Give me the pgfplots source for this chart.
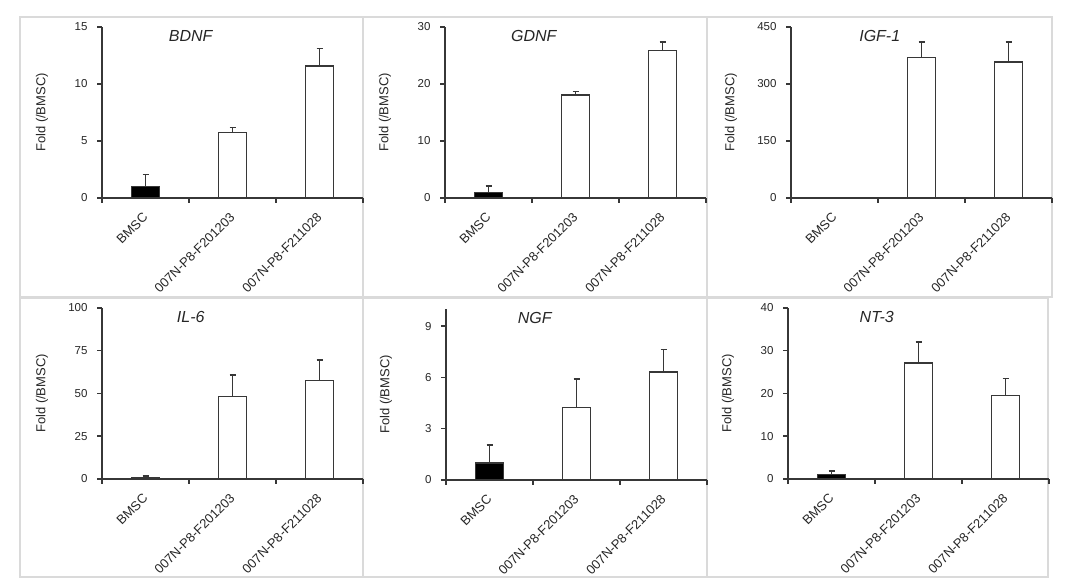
\documentclass[border=0pt]{standalone}
\usepackage{fontspec}
\setmainfont{Liberation Sans}
\usepackage{pgfplots}
\pgfplotsset{compat=1.18}
\definecolor{ax}{RGB}{55,55,55}
\definecolor{brd}{RGB}{218,218,218}
\pgfplotsset{
  panel/.style={
    scale only axis, width=261pt, height=171pt, anchor=south west,
    xmin=-0.5, xmax=2.5, ymin=0,
    axis lines=left, axis line style={draw=ax, line width=1.6pt, -},
    xtick={0,1,2}, xticklabels={BMSC,007N-P8-F201203,007N-P8-F211028},
    minor xtick={-0.5,0.5,1.5,2.5},
    tick align=outside, major tick length=5pt, minor tick length=5pt,
    tick style={draw=ax, line width=1.5pt},
    major x tick style={draw=none},
    xticklabel style={yshift=-12pt, rotate=45, anchor=east, font=\fontsize{13}{15}\selectfont, inner sep=0pt, text=black!85},
    yticklabel style={xshift=-6pt, font=\fontsize{11.5}{13}\selectfont, text=black!85},
    /pgf/number format/assume math mode=true,
    ylabel={Fold (/BMSC)},
    ylabel style={at={(axis description cs:-0.23,0.5)}, anchor=center, font=\fontsize{13}{15}\selectfont, text=black!85},
    title style={at={(axis description cs:0.34,0.91)}, anchor=center, font=\fontsize{16}{18}\selectfont\itshape, text=black!85},
    clip=false,
  },
  bmsc/.style={ybar, bar width=28pt, fill=black, draw=ax, line width=1.5pt,
    error bars/.cd, y dir=plus, y explicit,
    error bar style={ax, line width=1.5pt},
    error mark options={rotate=90, ax, mark size=3pt, line width=1.5pt}},
  oth/.style={ybar, bar width=28pt, fill=white, draw=ax, line width=1.5pt,
    error bars/.cd, y dir=plus, y explicit,
    error bar style={ax, line width=1.5pt},
    error mark options={rotate=90, ax, mark size=3pt, line width=1.5pt}},
}
\begin{document}
\begin{tikzpicture}
\useasboundingbox (0,0) rectangle (1070pt,588pt);
\draw[brd, line width=1.5pt] (20pt,291pt) rectangle (363pt,571pt);
\draw[brd, line width=1.5pt] (363pt,291pt) rectangle (707pt,571pt);
\draw[brd, line width=1.5pt] (707pt,291pt) rectangle (1052pt,571pt);
\draw[brd, line width=1.5pt] (20pt,11pt) rectangle (363pt,290pt);
\draw[brd, line width=1.5pt] (363pt,11pt) rectangle (707pt,290pt);
\draw[brd, line width=1.5pt] (707pt,11pt) rectangle (1048pt,290pt);

\begin{axis}[panel, at={(102pt,390pt)}, ymax=15, ytick={0,5,10,15}, title={BDNF}]
\addplot[bmsc] coordinates {(0,1) +- (0,1.05)};
\addplot[oth] coordinates {(1,5.73) +- (0,0.47) (2,11.6) +- (0,1.5)};
\end{axis}

\begin{axis}[panel, at={(445pt,390pt)}, ymax=30, ytick={0,10,20,30}, title={GDNF}]
\addplot[bmsc] coordinates {(0,1) +- (0,1.1)};
\addplot[oth] coordinates {(1,18.1) +- (0,0.55) (2,25.9) +- (0,1.45)};
\end{axis}

\begin{axis}[panel, at={(791pt,390pt)}, ymax=450, ytick={0,150,300,450}, title={IGF-1}]
\addplot[bmsc] coordinates {(0,1) +- (0,0.5)};
\addplot[oth] coordinates {(1,370) +- (0,40) (2,358) +- (0,52)};
\end{axis}

\begin{axis}[panel, at={(102pt,109pt)}, ymax=100, ytick={0,25,50,75,100}, title={IL-6}]
\addplot[bmsc] coordinates {(0,0.8) +- (0,1.0)};
\addplot[oth] coordinates {(1,48.3) +- (0,12.6) (2,57.5) +- (0,12.1)};
\end{axis}

\begin{axis}[panel, at={(446pt,108pt)}, ymax=10, ytick={0,3,6,9}, title={NGF}]
\addplot[bmsc] coordinates {(0,1) +- (0,1.05)};
\addplot[oth] coordinates {(1,4.23) +- (0,1.67) (2,6.33) +- (0,1.29)};
\end{axis}

\begin{axis}[panel, at={(788pt,109pt)}, ymax=40, ytick={0,10,20,30,40}, title={NT-3}]
\addplot[bmsc] coordinates {(0,1) +- (0,0.9)};
\addplot[oth] coordinates {(1,27.1) +- (0,4.9) (2,19.5) +- (0,4.0)};
\end{axis}
\end{tikzpicture}
\end{document}
